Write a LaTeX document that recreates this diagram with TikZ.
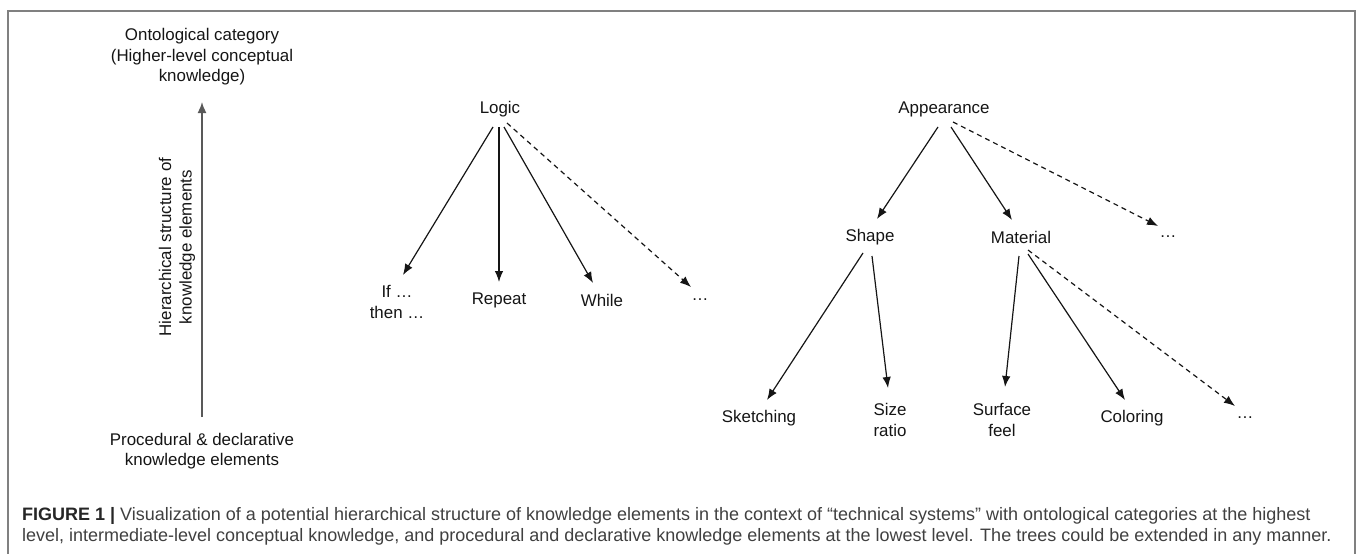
\documentclass[tikz,border=0pt]{standalone}
\usepackage{fontspec}
\setmainfont{Liberation Sans}
\usetikzlibrary{arrows.meta,calc}
\definecolor{framegray}{HTML}{808080}
\definecolor{captext}{HTML}{404040}
\definecolor{inkc}{HTML}{151515}
\tikzset{
  lbl/.style={font=\fontsize{16.9}{20.5}\selectfont, text=inkc, align=center, inner sep=0pt},
  arr/.style={-{Latex[length=11pt,width=8.5pt]}, line width=1.2pt, draw=inkc},
  darr/.style={arr, dash pattern=on 5pt off 4pt},
  axisarr/.style={-{Latex[length=11pt,width=9pt]}, line width=1.6pt, draw=black!65},
  captxt/.style={font=\fontsize{18}{21}\selectfont, text=captext, anchor=base west, inner sep=0pt},
  framebox/.style={draw=framegray, line width=2pt}
}
\begin{document}
\begin{tikzpicture}[x=1pt,y=-1pt]
\useasboundingbox (0,0) rectangle (1358,554);
% frame
\draw[framebox] (8,560) -- (8,11) -- (1355,11) -- (1355,560);

% left axis
\node[lbl] (ont) at (202,57) {Ontological category\\(Higher-level conceptual\\knowledge)};
\node[lbl] (proc) at (202,451) {Procedural \& declarative\\knowledge elements};
\draw[axisarr] ($(proc)+(0,-34)$) -- ($(ont)+(0,45)$);
\node[lbl, rotate=90] (hier) at (177,247) {Hierarchical structure of\\knowledge elements};

% Logic tree
\node[lbl] (logic) at (500,109) {Logic};
\node[lbl] (ifthen) at (397,302) {If \ldots\\then \ldots};
\node[lbl] (repeat) at (499,300) {Repeat};
\node[lbl] (while) at (602,300) {While};
\node[lbl] (ldots) at (700,300) {\ldots};
\draw[arr] ($(logic)+(-7,18)$) -- ($(ifthen)+(6,-27)$);
\draw[arr] ($(logic)+(-1,18)$) -- ($(repeat)+(0,-18)$);
\draw[arr] ($(logic)+(4,18)$) -- ($(while)+(-9,-17)$);
\draw[darr] ($(logic)+(7,14)$) -- ($(ldots)+(-9,-13)$);

% Appearance tree
\node[lbl] (app) at (944,109) {Appearance};
\node[lbl] (shape) at (870,237) {Shape};
\node[lbl] (mat) at (1021,237) {Material};
\node[lbl] (adots) at (1168,237) {\ldots};
\draw[arr] ($(app)+(-6,18)$) -- ($(shape)+(7,-18)$);
\draw[arr] ($(app)+(7,18)$) -- ($(mat)+(-9,-17)$);
\draw[darr] ($(app)+(9,13)$) -- ($(adots)+(-10,-11)$);

\node[lbl] (sketch) at (759,418) {Sketching};
\node[lbl] (size) at (890,420) {Size\\ratio};
\node[lbl] (surf) at (1002,420) {Surface\\feel};
\node[lbl] (color) at (1132,418) {Coloring};
\node[lbl] (mdots) at (1245,418) {\ldots};
\draw[arr] ($(shape)+(-7,16)$) -- ($(sketch)+(8,-18)$);
\draw[arr] ($(shape)+(2,19)$) -- ($(size)+(-2,-32)$);
\draw[arr] ($(mat)+(-2,19)$) -- ($(surf)+(3,-33)$);
\draw[arr] ($(mat)+(7,17)$) -- ($(color)+(-7,-18)$);
\draw[darr] ($(mat)+(7,13)$) -- ($(mdots)+(-10,-12)$);

% caption
\node[captxt] (cap1) at (22,520) {\textbf{\color{black!85}FIGURE 1 |} Visualization of a potential hierarchical structure of knowledge elements in the context of “technical systems” with ontological categories at the highest};
\node[captxt] (cap2) at (22,541) {level, intermediate-level conceptual knowledge, and procedural and declarative knowledge elements at the lowest level. The trees could be extended in any manner.};
\end{tikzpicture}
\end{document}
